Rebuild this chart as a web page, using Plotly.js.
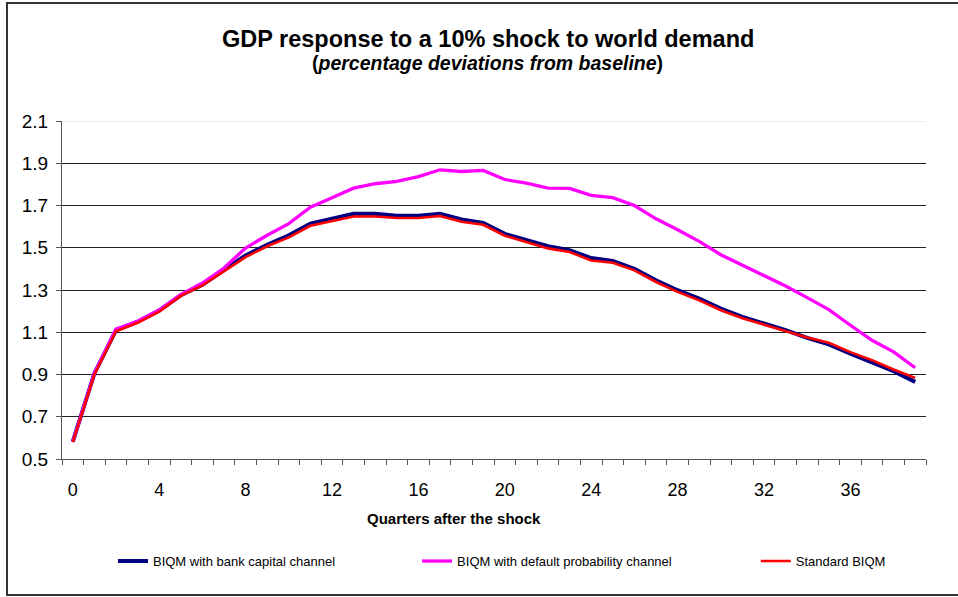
<!DOCTYPE html>
<html>
<head>
<meta charset="utf-8">
<script src="https://cdn.plot.ly/plotly-3.0.1.min.js"></script>
<style>
  html, body { margin: 0; padding: 0; background: #fff; overflow: hidden; }
  #chart { width: 958px; height: 597px; position: absolute; left: 0; top: 0; }
  #frame { position: absolute; left: 6px; top: 2px; width: 1000px; height: 590px;
           border: 2px solid #333; pointer-events: none; }
</style>
</head>
<body>
<div id="chart"></div>
<div id="frame"></div>
<script>
// ---- data ----
const quarters = [0,1,2,3,4,5,6,7,8,9,10,11,12,13,14,15,16,17,18,19,
                  20,21,22,23,24,25,26,27,28,29,30,31,32,33,34,35,36,37,38,39];

const bankCapital = [0.582,0.905,1.110,1.150,1.203,1.275,1.325,1.395,1.464,1.514,
                     1.559,1.614,1.636,1.661,1.661,1.652,1.652,1.661,1.634,1.618,
                     1.566,1.535,1.507,1.488,1.451,1.437,1.400,1.346,1.299,1.259,
                     1.212,1.173,1.141,1.110,1.073,1.043,0.999,0.960,0.916,0.865];

const defaultProb = [0.582,0.905,1.115,1.152,1.205,1.278,1.333,1.404,1.499,1.559,
                     1.614,1.692,1.737,1.782,1.803,1.814,1.837,1.869,1.861,1.866,
                     1.823,1.806,1.782,1.781,1.748,1.737,1.700,1.637,1.585,1.530,
                     1.467,1.417,1.370,1.319,1.264,1.207,1.133,1.062,1.007,0.932];

const standard = [0.580,0.900,1.105,1.145,1.198,1.272,1.322,1.390,1.456,1.507,
                  1.549,1.604,1.625,1.648,1.648,1.641,1.641,1.650,1.623,1.609,
                  1.557,1.526,1.497,1.480,1.440,1.429,1.393,1.338,1.291,1.251,
                  1.204,1.166,1.135,1.106,1.075,1.050,1.006,0.968,0.924,0.884];

const seriesNames = ["BIQM with bank capital channel",
                     "BIQM with default probability channel",
                     "Standard BIQM"];

const xTickVals = [0,4,8,12,16,20,24,28,32,36];
const xTickText = ["0","4","8","12","16","20","24","28","32","36"];
const yTickVals = [0.5,0.7,0.9,1.1,1.3,1.5,1.7,1.9,2.1];

// ---- chart ----
const FONT = "Arial, 'Liberation Sans', sans-serif";

const traces = [
  { x: quarters, y: bankCapital, name: seriesNames[0], type: "scatter", mode: "lines",
    line: { color: "#000080", width: 4 }, legend: "legend" },
  { x: quarters, y: defaultProb, name: seriesNames[1], type: "scatter", mode: "lines",
    line: { color: "#FF00FF", width: 3.3 }, legend: "legend2" },
  { x: quarters, y: standard, name: seriesNames[2], type: "scatter", mode: "lines",
    line: { color: "#FF0000", width: 2.6 }, legend: "legend3" }
];

const legendBase = {
  orientation: "h", yanchor: "middle", xanchor: "left", y: -0.302,
  font: { family: FONT, size: 13, color: "#000" },
  bgcolor: "rgba(0,0,0,0)", borderwidth: 0, itemwidth: 30
};

const layout = {
  width: 958, height: 597,
  margin: { l: 62, r: 32, t: 121, b: 138 },
  paper_bgcolor: "#fff", plot_bgcolor: "#fff",
  font: { family: FONT, color: "#000" },
  showlegend: true,
  legend:  Object.assign({}, legendBase, { x: 0.059 }),
  legend2: Object.assign({}, legendBase, { x: 0.411 }),
  legend3: Object.assign({}, legendBase, { x: 0.803 }),
  xaxis: {
    range: [-0.5, 39.5],
    tickmode: "array", tickvals: xTickVals, ticktext: xTickText,
    ticks: "", showgrid: false, zeroline: false,
    showline: true, linecolor: "#555", linewidth: 1,
    ticklabelstandoff: 14,
    tickfont: { family: FONT, size: 18, color: "#000" },
    minor: { tickmode: "linear", tick0: -0.5, dtick: 1, ticks: "outside",
             ticklen: 5, tickcolor: "#555", tickwidth: 1, showgrid: false },
    fixedrange: true
  },
  yaxis: {
    range: [0.5, 2.1],
    tickmode: "array", tickvals: yTickVals, tickformat: ".1f",
    ticks: "outside", ticklen: 5, tickcolor: "#555",
    showgrid: true, gridcolor: "#222", gridwidth: 1, zeroline: false,
    showline: true, linecolor: "#555", linewidth: 1,
    ticklabelstandoff: 4,
    tickfont: { family: FONT, size: 19, color: "#000" },
    fixedrange: true
  },
  shapes: [
    { type: "line", xref: "paper", yref: "y", x0: 0, x1: 1, y0: 2.1, y1: 2.1,
      line: { color: "#d9d9d9", width: 1 }, layer: "above" }
  ],
  annotations: [
    { text: "<b>GDP response to a 10% shock to world demand</b>",
      xref: "paper", yref: "paper", x: 0.493, y: 1.244, xanchor: "center", yanchor: "middle",
      showarrow: false, font: { family: FONT, size: 23.5, color: "#000" } },
    { text: "<b>(<i>percentage deviations from baseline</i>)</b>",
      xref: "paper", yref: "paper", x: 0.493, y: 1.1716, xanchor: "center", yanchor: "middle",
      showarrow: false, font: { family: FONT, size: 19.5, color: "#000" } },
    { text: "<b>Quarters after the shock</b>",
      xref: "paper", yref: "paper", x: 0.4537, y: -0.1746, xanchor: "center", yanchor: "middle",
      showarrow: false, font: { family: FONT, size: 15, color: "#000" } }
  ]
};

Plotly.newPlot("chart", traces, layout, { displayModeBar: false, staticPlot: true });
</script>
</body>
</html>
